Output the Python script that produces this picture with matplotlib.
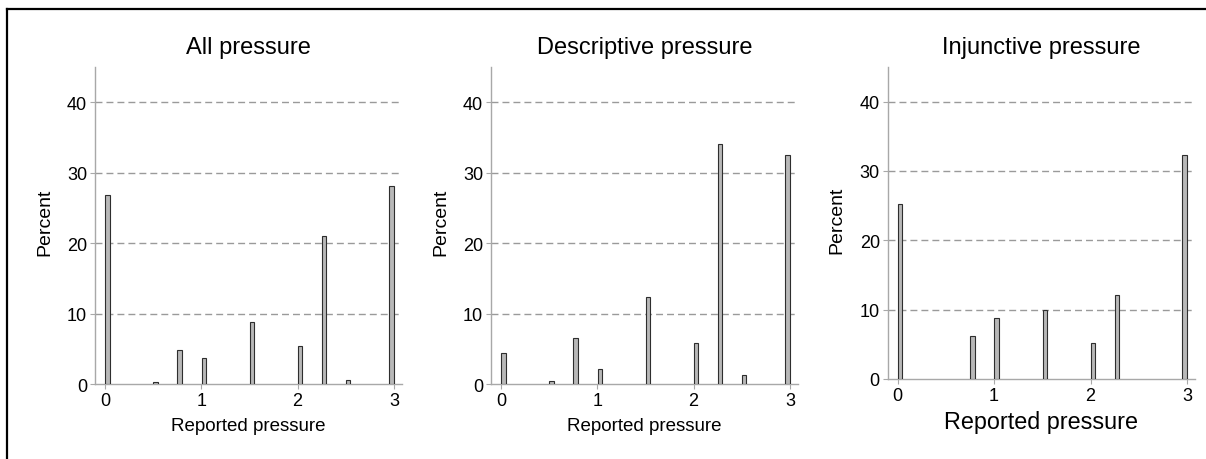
import matplotlib
matplotlib.use('Agg')
import matplotlib.pyplot as plt
from matplotlib.lines import Line2D
import numpy as np

plt.rcParams['font.family'] = ['Liberation Sans', 'DejaVu Sans']
plt.rcParams['lines.scale_dashes'] = False

# ---- data (percent of respondents per reported pressure level) ----
pressure_levels = [0, 0.5, 0.75, 1, 1.5, 2, 2.25, 2.5, 3]
all_pct = [26.9, 0.25, 4.8, 3.7, 8.8, 5.35, 21.05, 0.62, 28.1]
desc_pct = [4.4, 0.47, 6.6, 2.1, 12.35, 5.85, 34.1, 1.23, 32.5]
inj_pct = [25.2, 0.0, 6.2, 8.75, 10.0, 5.15, 12.1, 0.0, 32.3]
panel_titles = ["All pressure", "Descriptive pressure", "Injunctive pressure"]
y_ticks = [0, 10, 20, 30, 40]
x_ticks = [0, 1, 2, 3]
bin_width = 0.05

fig = plt.figure(figsize=(12.06, 4.6), dpi=100)
W, H = 1206, 460

# pixel geometry: (left, right, top, bottom_zero)
geom = [(95, 402, 68, 385), (491, 798, 68, 385), (887.7, 1195, 68, 380)]
ylabel_x = [44.7, 440.5, 837]
xlabel_size = [13.5, 13.5, 16.8]
xlabel_base = [431, 431, 429]

series = [all_pct, desc_pct, inj_pct]
bar_fill = '#b8b8b8'
bar_edge = '#2e2e2e'
axis_gray = '#a8a8a8'
grid_gray = '#9a9a9a'

for i, (vals, title) in enumerate(zip(series, panel_titles)):
    l, r, t, b = geom[i]
    ax = fig.add_axes([l / W, 1 - b / H, (r - l) / W, (b - t) / H])
    x = np.array(pressure_levels, dtype=float)
    h = np.array(vals, dtype=float)
    keep = h > 0
    # histogram bins of width 0.05 starting at each level (last bin ends at 3)
    centers = np.minimum(x + bin_width / 2, 3 - bin_width / 2)
    ax.bar(centers[keep], h[keep], width=0.045, color=bar_fill,
           edgecolor=bar_edge, linewidth=0.8, zorder=3)
    ax.set_xlim(-0.104, 3.084)
    ax.set_ylim(0, 45)
    ax.set_yticks(y_ticks)
    ax.set_xticks(x_ticks)
    ax.set_xticklabels([str(v) for v in x_ticks])
    ax.set_yticklabels([str(v) for v in y_ticks])
    for yv in y_ticks[1:]:
        ax.axhline(yv, color=grid_gray, linewidth=1.0, dashes=(5.0, 2.9), zorder=1)
    for s in ['top', 'right']:
        ax.spines[s].set_visible(False)
    for s in ['left', 'bottom']:
        ax.spines[s].set_color(axis_gray)
        ax.spines[s].set_linewidth(1.0)
    ax.tick_params(axis='both', length=3.5, width=0.8, color=axis_gray,
                   labelsize=13, pad=2.2, labelcolor='black')
    ax.set_facecolor('none')
    # x label
    ax.text(0.5, (b - xlabel_base[i]) / (b - t), "Reported pressure",
            transform=ax.transAxes, ha='center', va='baseline',
            fontsize=xlabel_size[i])
    # y label
    fig.text(ylabel_x[i] / W, 1 - ((t + b) / 2 - 4) / H, "Percent",
             rotation=90, ha='center', va='center', fontsize=14)
    # title
    fig.text(((l + r) / 2) / W, 1 - 54 / H, title, ha='center',
             va='baseline', fontsize=17)

# outer frame (top and left lines)
fig.add_artist(Line2D([7 / W, 1205 / W], [1 - 10 / H, 1 - 10 / H],
                      color='black', linewidth=1.6, transform=fig.transFigure))
fig.add_artist(Line2D([7 / W, 7 / W], [1 - 10 / H, 0],
                      color='black', linewidth=1.6, transform=fig.transFigure))

fig.savefig('out.png', dpi=100, facecolor='white')
